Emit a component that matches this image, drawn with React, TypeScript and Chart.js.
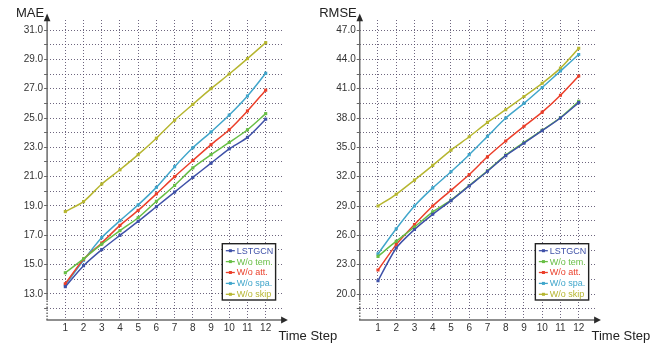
import React, { useEffect, useRef } from "react";
import { Chart, registerables } from "chart.js";

Chart.register(...registerables);

// ---------- data ----------
const timeSteps = [1, 2, 3, 4, 5, 6, 7, 8, 9, 10, 11, 12];
const seriesNames = ["LSTGCN", "W/o tem.", "W/o att.", "W/o spa.", "W/o skip"];
const seriesColors = ["#3f51a8", "#68be45", "#eb3f2a", "#41a6cb", "#b6b630"];

const maeLSTGCN = [13.5, 14.93, 16.03, 17.0, 17.95, 18.95, 19.95, 20.95, 21.92, 22.9, 23.68, 24.92];
const maeTem = [14.45, 15.4, 16.4, 17.32, 18.2, 19.32, 20.4, 21.6, 22.5, 23.33, 24.2, 25.3];
const maeAtt = [13.7, 15.37, 16.48, 17.68, 18.7, 19.83, 21.0, 22.1, 23.18, 24.2, 25.48, 26.9];
const maeSpa = [13.62, 15.3, 16.85, 18.0, 19.08, 20.27, 21.68, 22.97, 24.05, 25.2, 26.5, 28.05];
const maeSkip = [18.62, 19.3, 20.5, 21.47, 22.5, 23.62, 24.85, 25.93, 27.0, 28.0, 29.05, 30.14];

const rmseLSTGCN = [21.35, 24.7, 26.6, 28.15, 29.55, 31.05, 32.55, 34.15, 35.42, 36.7, 38.0, 39.57];
const rmseTem = [23.85, 25.4, 26.85, 28.4, 29.6, 31.1, 32.6, 34.2, 35.5, 36.75, 38.05, 39.7];
const rmseAtt = [22.45, 25.05, 27.1, 29.0, 30.6, 32.22, 34.03, 35.65, 37.15, 38.6, 40.33, 42.3];
const rmseSpa = [24.1, 26.67, 29.0, 30.85, 32.5, 34.25, 36.12, 38.0, 39.5, 41.12, 42.8, 44.5];
const rmseSkip = [29.0, 30.2, 31.65, 33.15, 34.72, 36.08, 37.55, 38.85, 40.2, 41.55, 43.1, 45.13];

const maeTickLabels = [13, 15, 17, 19, 21, 23, 25, 27, 29, 31];
const maeGridTicks = [12, 13, 14, 15, 16, 17, 18, 19, 20, 21, 22, 23, 24, 25, 26, 27, 28, 29, 30, 31];
const rmseTickLabels = [20, 23, 26, 29, 32, 35, 38, 41, 44, 47];
const rmseGridTicks = [18.5, 20, 21.5, 23, 24.5, 26, 27.5, 29, 30.5, 32, 33.5, 35, 36.5, 38, 39.5, 41, 42.5, 44, 45.5, 47];

// ---------- drawing helpers ----------
const FONT = '"Liberation Sans", Arial, sans-serif';

const decorPlugin = {
  id: "decor",
  afterDraw(chart: any, _args: any, opts: any) {
    const { ctx, chartArea: ca } = chart;
    ctx.save();
    // axes
    ctx.strokeStyle = "#6a6a6a";
    ctx.fillStyle = "#4a4a4a";
    ctx.lineWidth = 1.5;
    ctx.setLineDash([]);
    ctx.beginPath();
    ctx.moveTo(ca.left, ca.bottom - 20);
    ctx.lineTo(ca.left, ca.top - 2);
    ctx.stroke();
    ctx.setLineDash([1.5, 1.5]);
    ctx.beginPath();
    ctx.moveTo(ca.left, ca.bottom);
    ctx.lineTo(ca.left, ca.bottom - 20);
    ctx.stroke();
    ctx.setLineDash([]);
    ctx.beginPath();
    ctx.moveTo(ca.left - 0.7, ca.bottom);
    ctx.lineTo(ca.right, ca.bottom);
    ctx.stroke();
    // arrows
    ctx.fillStyle = "#2a2a2a";
    ctx.beginPath();
    ctx.moveTo(ca.left, ca.top - 6.5);
    ctx.lineTo(ca.left - 3.3, ca.top + 1.2);
    ctx.lineTo(ca.left + 3.3, ca.top + 1.2);
    ctx.closePath();
    ctx.fill();
    ctx.beginPath();
    ctx.moveTo(ca.right + 4, ca.bottom);
    ctx.lineTo(ca.right - 2.8, ca.bottom - 3.4);
    ctx.lineTo(ca.right - 2.8, ca.bottom + 3.4);
    ctx.closePath();
    ctx.fill();

    // titles
    ctx.fillStyle = "#222";
    ctx.font = `13px ${FONT}`;
    ctx.textBaseline = "alphabetic";
    ctx.textAlign = "right";
    ctx.fillText(opts.title, ca.left - 3, 17);
    ctx.textAlign = "left";
    ctx.fillText("Time Step", ca.right - 5.5, ca.bottom + 20);

    // legend
    const right = ca.right - 8.3;
    const w = 53.3;
    const left = right - w;
    const top = ca.bottom - 76.3;
    const bottom = ca.bottom - 20;
    ctx.fillStyle = "#fff";
    ctx.fillRect(left, top, w, bottom - top);
    ctx.strokeStyle = "#222";
    ctx.lineWidth = 1.4;
    ctx.strokeRect(left, top, w, bottom - top);
    ctx.font = `9px ${FONT}`;
    ctx.textBaseline = "middle";
    ctx.textAlign = "left";
    chart.data.datasets.forEach((ds: any, i: number) => {
      const y = top + 7 + i * 10.9;
      ctx.strokeStyle = ds.borderColor;
      ctx.lineWidth = 1.3;
      ctx.beginPath();
      ctx.moveTo(left + 3.5, y);
      ctx.lineTo(left + 12.5, y);
      ctx.stroke();
      ctx.fillStyle = ds.borderColor;
      ctx.fillRect(left + 6.6, y - 1.5, 3, 3);
      ctx.fillText(ds.label, left + 14.5, y + 0.5);
    });
    ctx.restore();
  },
};

type Panel = {
  title: string;
  series: number[][];
  yMin: number;
  yMax: number;
  gridTicks: number[];
  labelTicks: number[];
  axisWidth: number;
  padRight: number;
};

function LinePanel({ panel, left, width }: { panel: Panel; left: number; width: number }) {
  const ref = useRef<HTMLCanvasElement | null>(null);
  useEffect(() => {
    if (!ref.current) return;
    const gridColor = "rgba(85,75,105,0.85)";
    const chart = new Chart(ref.current, {
      type: "line",
      data: {
        datasets: panel.series.map((arr, i) => ({
          label: seriesNames[i],
          data: timeSteps.map((t, j) => ({ x: t, y: arr[j] })),
          borderColor: seriesColors[i],
          backgroundColor: seriesColors[i],
          borderWidth: 1.5,
          tension: 0.25,
          pointStyle: "rect",
          pointRadius: 2.2,
          pointBorderWidth: 0,
          pointBackgroundColor: seriesColors[i],
          fill: false,
        })),
      },
      options: {
        animation: false,
        responsive: false,
        devicePixelRatio: 1,
        layout: { padding: { left: 0, right: panel.padRight, top: 20, bottom: 0 } },
        plugins: {
          legend: { display: false },
          tooltip: { enabled: false },
          decor: { title: panel.title },
        } as any,
        scales: {
          x: {
            type: "linear",
            min: 0,
            max: 13,
            afterBuildTicks: (s: any) => {
              s.ticks = timeSteps.map((v) => ({ value: v }));
            },
            afterFit: (s: any) => {
              s.height = 25;
            },
            grid: { color: gridColor, lineWidth: 1, drawTicks: false },
            border: { display: false, dash: [1, 2] },
            ticks: {
              padding: 2,
              color: "#333",
              font: { family: FONT, size: 10 },
              maxRotation: 0,
              autoSkip: false,
              callback: (v: any) => String(v),
            },
          },
          y: {
            type: "linear",
            min: panel.yMin,
            max: panel.yMax,
            afterBuildTicks: (s: any) => {
              s.ticks = panel.gridTicks.map((v) => ({ value: v }));
            },
            afterFit: (s: any) => {
              s.width = panel.axisWidth;
            },
            grid: {
              color: gridColor,
              lineWidth: 1,
              drawTicks: true,
              tickLength: 3,
              tickColor: "#666",
              tickWidth: 1,
              tickBorderDash: [],
            },
            border: { display: false, dash: [1, 2] },
            ticks: {
              padding: 1,
              color: "#333",
              font: { family: FONT, size: 10 },
              autoSkip: false,
              callback: (v: any) => (panel.labelTicks.includes(Number(v)) ? Number(v).toFixed(1) : ""),
            },
          },
        },
      } as any,
      plugins: [decorPlugin],
    });
    return () => chart.destroy();
  }, [panel]);
  return (
    <canvas
      ref={ref}
      width={width}
      height={345}
      style={{ position: "absolute", left, top: 0, width, height: 345 }}
    />
  );
}

const maePanel: Panel = {
  title: "MAE",
  series: [maeLSTGCN, maeTem, maeAtt, maeSpa, maeSkip],
  yMin: 11.227,
  yMax: 31.682,
  gridTicks: maeGridTicks,
  labelTicks: maeTickLabels,
  axisWidth: 47.1,
  padRight: 56.1,
};

const rmsePanel: Panel = {
  title: "RMSE",
  series: [rmseLSTGCN, rmseTem, rmseAtt, rmseSpa, rmseSkip],
  yMin: 17.341,
  yMax: 48.023,
  gridTicks: rmseGridTicks,
  labelTicks: rmseTickLabels,
  axisWidth: 49.75,
  padRight: 69.05,
};

export default function App() {
  return (
    <div
      style={{
        position: "fixed",
        left: 0,
        top: 0,
        width: 666,
        height: 345,
        background: "#fff",
        overflow: "hidden",
      }}
    >
      <LinePanel panel={maePanel} left={0} width={340} />
      <LinePanel panel={rmsePanel} left={310} width={356} />
    </div>
  );
}
